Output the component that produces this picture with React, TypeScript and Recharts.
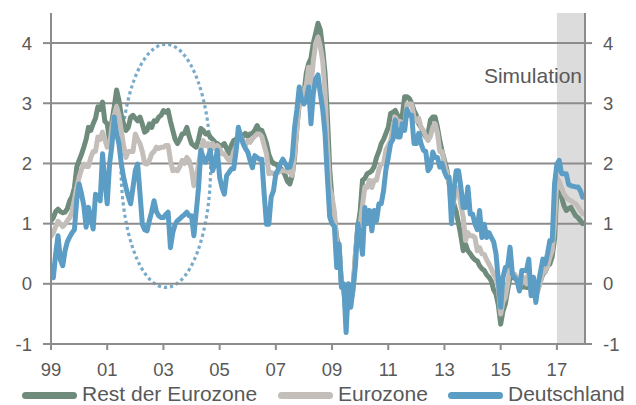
import React from 'react';
import {
  LineChart, Line, XAxis, YAxis, ReferenceArea, ReferenceLine, Legend,
} from 'recharts';

// Monthly inflation rates, Jan 1999 – Dec 2017 (one row per year)
const START_YEAR = 1999;

const restDerEurozone = [
  1.05, 1.1, 1.2, 1.24, 1.2, 1.18, 1.19, 1.25, 1.38, 1.45, 1.6, 1.94,
  2.05, 2.15, 2.27, 2.4, 2.6, 2.55, 2.66, 2.75, 2.94, 2.9, 3.02, 2.7,
  2.66, 2.38, 2.7, 2.94, 3.22, 3.05, 2.8, 2.66, 2.55, 2.6, 2.77, 2.8,
  2.75, 2.71, 2.77, 2.65, 2.52, 2.55, 2.66, 2.6, 2.71, 2.7, 2.77, 2.8,
  2.88, 2.85, 2.88, 2.7, 2.55, 2.4, 2.33, 2.4, 2.49, 2.5, 2.6, 2.45,
  2.33, 2.3, 2.27, 2.4, 2.58, 2.55, 2.49, 2.5, 2.44, 2.4, 2.35, 2.33,
  2.3, 2.3, 2.33, 2.25, 2.16, 2.3, 2.38, 2.4, 2.45, 2.49, 2.45, 2.5,
  2.45, 2.49, 2.5, 2.55, 2.63, 2.55, 2.55, 2.45, 2.33, 2.15, 2.05, 2.0,
  1.99, 1.95, 1.92, 1.88, 1.8, 1.7, 1.66, 1.8, 2.1, 2.6, 3.0, 3.1,
  3.16, 3.5, 3.66, 3.75, 4.0, 4.16, 4.33, 4.22, 3.9, 3.5, 2.8, 1.9,
  1.4, 1.11, 0.77, 0.6, 0.0, -0.1, -0.45, -0.17, -0.2, -0.06, 0.5, 0.94,
  1.2, 1.72, 1.75, 1.83, 1.85, 1.88, 1.95, 2.1, 2.2, 2.33, 2.4, 2.5,
  2.6, 2.83, 2.85, 2.88, 2.8, 2.72, 2.8, 3.11, 3.11, 3.08, 3.0, 2.88,
  2.8, 2.66, 2.6, 2.5, 2.44, 2.5, 2.72, 2.77, 2.77, 2.6, 2.38, 2.2,
  2.05, 1.9, 1.66, 1.5, 1.33, 1.2, 1.0, 0.8, 0.55, 0.66, 0.55, 0.5,
  0.44, 0.4, 0.38, 0.3, 0.25, 0.22, 0.15, 0.11, 0.05, -0.1, -0.17, -0.35,
  -0.67, -0.45, -0.33, -0.1, 0.11, 0.1, 0.11, 0.05, -0.06, -0.06, -0.05, -0.06,
  -0.06, -0.1, -0.06, -0.08, -0.06, 0.05, 0.16, 0.2, 0.3, 0.33, 0.45, 0.75,
  1.55, 1.5, 1.44, 1.3, 1.22, 1.25, 1.27, 1.2, 1.13, 1.1, 1.05, 1.0,
];

const eurozone = [
  0.79, 0.85, 0.95, 1.04, 1.0, 0.95, 0.99, 1.05, 1.1, 1.2, 1.4, 1.6,
  1.77, 1.9, 1.99, 1.95, 1.95, 2.1, 2.2, 2.2, 2.44, 2.4, 2.52, 2.4,
  2.27, 2.3, 2.6, 2.8, 2.95, 2.8, 2.55, 2.3, 2.1, 2.2, 2.2, 2.2,
  2.49, 2.4, 2.33, 2.2, 2.0, 1.99, 2.05, 2.16, 2.2, 2.27, 2.25, 2.27,
  2.27, 2.3, 2.3, 2.05, 1.88, 1.9, 1.88, 1.95, 2.05, 2.0, 2.1, 2.05,
  1.9, 1.63, 1.75, 2.0, 2.22, 2.38, 2.3, 2.33, 2.2, 2.33, 2.25, 2.3,
  2.25, 2.16, 2.16, 2.1, 2.05, 2.05, 2.2, 2.27, 2.45, 2.45, 2.38, 2.3,
  2.38, 2.35, 2.41, 2.45, 2.49, 2.49, 2.45, 2.3, 2.16, 1.83, 1.85, 1.83,
  1.83, 1.85, 1.88, 1.88, 1.88, 1.86, 1.86, 1.8, 2.16, 2.6, 3.05, 3.1,
  3.2, 3.3, 3.6, 3.3, 3.7, 3.99, 4.1, 3.94, 3.7, 3.2, 2.3, 1.6,
  1.44, 1.2, 0.66, 0.66, -0.03, -0.1, -0.56, -0.2, -0.3, -0.12, 0.5, 0.94,
  1.0, 1.3, 1.61, 1.6, 1.72, 1.6, 1.72, 1.72, 1.9, 1.99, 2.0, 2.22,
  2.3, 2.38, 2.6, 2.77, 2.7, 2.7, 2.6, 2.6, 2.99, 2.99, 2.99, 2.77,
  2.7, 2.75, 2.6, 2.55, 2.45, 2.38, 2.45, 2.6, 2.66, 2.5, 2.2, 2.2,
  1.99, 1.85, 1.66, 1.2, 1.38, 1.55, 1.6, 1.3, 1.11, 0.72, 0.85, 0.8,
  0.8, 0.77, 0.55, 0.6, 0.5, 0.49, 0.4, 0.33, 0.25, 0.16, 0.1, -0.06,
  -0.5, -0.3, -0.22, 0.0, 0.3, 0.16, 0.16, 0.1, -0.06, 0.05, 0.1, 0.0,
  0.22, -0.15, 0.0, -0.2, -0.1, 0.03, 0.2, 0.2, 0.3, 0.44, 0.55, 1.0,
  1.77, 1.7, 1.6, 1.5, 1.44, 1.4, 1.38, 1.35, 1.33, 1.28, 1.22, 1.16,
];

const deutschland = [
  0.3, 0.1, 0.5, 0.8, 0.4, 0.3, 0.55, 0.7, 0.78, 0.85, 0.9, 1.4,
  1.66, 1.5, 1.3, 0.94, 1.27, 1.1, 0.91, 1.49, 1.45, 1.38, 2.16, 1.7,
  1.33, 1.99, 2.3, 2.77, 2.5, 2.33, 2.0, 1.77, 1.6, 1.45, 1.33, 1.6,
  1.88, 1.99, 1.5, 0.99, 0.9, 0.88, 1.05, 1.2, 1.38, 1.2, 1.13, 1.1,
  1.1, 1.15, 1.19, 0.6, 0.85, 0.99, 1.05, 1.08, 1.12, 1.15, 1.19, 1.13,
  1.13, 0.8, 1.19, 1.6, 2.22, 2.1, 2.02, 2.1, 2.22, 1.88, 2.0, 2.22,
  1.77, 1.6, 1.49, 1.8, 1.85, 1.91, 1.91, 2.2, 2.6, 2.45, 2.33, 2.25,
  2.19, 2.05, 1.93, 2.13, 2.1, 2.07, 2.07, 1.5, 0.99, 0.99, 1.44, 1.55,
  1.83, 1.9, 2.0, 2.07, 2.0, 1.93, 1.94, 2.1, 2.6, 2.9, 3.27, 3.05,
  2.99, 3.05, 3.27, 2.66, 3.16, 3.4, 3.47, 3.16, 2.9, 2.5, 1.77, 1.11,
  1.0, 0.95, 0.27, 0.66, -0.06, 0.0, -0.81, 0.0, -0.39, -0.06, 0.3, 1.0,
  0.8, 0.49, 1.27, 1.0, 1.22, 0.88, 1.22, 1.05, 1.33, 1.33, 1.55, 1.9,
  2.1, 2.33, 2.4, 2.72, 2.44, 2.44, 2.66, 2.55, 2.9, 2.8, 2.8, 2.33,
  2.33, 2.5, 2.33, 2.22, 2.2, 1.88, 1.94, 2.19, 2.1, 2.1, 1.94, 2.0,
  1.86, 1.77, 1.77, 1.0, 1.55, 1.88, 1.88, 1.61, 1.27, 1.27, 1.61, 1.16,
  1.16, 1.0, 0.9, 1.22, 0.77, 0.99, 0.77, 0.85, 0.77, 0.7, 0.5, 0.05,
  -0.39, 0.11, 0.27, 0.3, 0.61, 0.16, 0.1, 0.05, -0.12, 0.22, 0.22, 0.22,
  0.41, -0.2, 0.11, -0.31, 0.0, 0.2, 0.41, 0.33, 0.5, 0.72, 0.72, 1.66,
  1.99, 2.05, 1.83, 1.83, 1.83, 1.65, 1.63, 1.62, 1.61, 1.61, 1.55, 1.44,
];

const xTicks = [1999, 2001, 2003, 2005, 2007, 2009, 2011, 2013, 2015, 2017];
const yTicks = [-1, 0, 1, 2, 3, 4];
const xDomain = [1999, 2018];
const yDomain = [-1, 4.5];
const simulationRange = [2017, 2018];
const highlightRangeX = [2001.49, 2004.68];
const highlightRangeY = [-0.06, 3.98];

const seriesNames = ['Rest der Eurozone', 'Eurozone', 'Deutschland'];
const seriesKeys = ['rest', 'ez', 'de'];
const seriesColors = ['#6f8b7b', '#c3beb9', '#5b9dc4'];

const data = restDerEurozone.map((v, i) => ({
  t: START_YEAR + i / 12,
  rest: v,
  ez: eurozone[i],
  de: deutschland[i],
}));

const FONT = "'Liberation Sans', Arial, Helvetica, sans-serif";
const TEXT = '#595959';
const AXIS = '#8c8c8c';
const TICK_FONT = 18.5;
const X_LABEL_GAP = 13;

const fmtYear = (v: number) => String(Math.round(v) % 100).padStart(2, '0');

const XTick = (props: any) => {
  const { x, y, payload } = props;
  return (
    <text x={x} y={y + X_LABEL_GAP} dy="0.72em" textAnchor="middle" fontSize={TICK_FONT} fill={TEXT} fontFamily={FONT}>
      {fmtYear(payload.value)}
    </text>
  );
};

const YTickLeft = (props: any) => {
  const { x, y, payload } = props;
  return (
    <text x={x} y={y} dy="0.36em" textAnchor="end" fontSize={TICK_FONT} fill={TEXT} fontFamily={FONT}>
      {payload.value}
    </text>
  );
};

const YTickRight = (props: any) => {
  const { x, y, payload } = props;
  return (
    <text x={x} y={y} dy="0.36em" textAnchor="start" fontSize={TICK_FONT} fill={TEXT} fontFamily={FONT}>
      {payload.value}
    </text>
  );
};

const legendSwatchX = [22, 278, 448];

const LegendContent = () => (
  <div style={{ position: 'relative', width: 636, height: 24, fontFamily: FONT }}>
    {seriesNames.map((name, i) => (
      <React.Fragment key={name}>
        <div
          style={{
            position: 'absolute', left: legendSwatchX[i], top: 10.5, width: 55, height: 7,
            borderRadius: 3.5, background: seriesColors[i],
          }}
        />
        <span
          style={{
            position: 'absolute', left: legendSwatchX[i] + 60, top: 1, lineHeight: '24px',
            fontSize: 21, color: TEXT, whiteSpace: 'nowrap',
          }}
        >
          {name}
        </span>
      </React.Fragment>
    ))}
  </div>
);

export default function App() {
  return (
    <div style={{ position: 'absolute', left: 0, top: 0, width: 636, height: 405, background: '#fff' }}>
      <LineChart
        width={636}
        height={405}
        data={data}
        margin={{ top: 13, right: 0, bottom: 0, left: 0 }}
      >
        <XAxis
          dataKey="t"
          type="number"
          domain={xDomain}
          ticks={xTicks}
          interval={0}
          allowDataOverflow
          tick={<XTick />}
          tickSize={6}
          tickMargin={0}
          height={37}
          axisLine={{ stroke: AXIS, strokeWidth: 2 }}
          tickLine={{ stroke: AXIS, strokeWidth: 2 }}
        />
        <YAxis
          yAxisId="left"
          domain={yDomain}
          ticks={yTicks}
          interval={0}
          allowDataOverflow
          width={51}
          tick={<YTickLeft />}
          tickSize={8}
          tickMargin={11}
          axisLine={{ stroke: AXIS, strokeWidth: 2 }}
          tickLine={{ stroke: AXIS, strokeWidth: 2 }}
        />
        <YAxis
          yAxisId="right"
          orientation="right"
          domain={yDomain}
          ticks={yTicks}
          interval={0}
          allowDataOverflow
          width={51}
          tick={<YTickRight />}
          tickSize={7}
          tickMargin={11}
          axisLine={{ stroke: AXIS, strokeWidth: 2 }}
          tickLine={{ stroke: AXIS, strokeWidth: 2 }}
        />
        <ReferenceArea
          yAxisId="left"
          x1={simulationRange[0]}
          x2={simulationRange[1]}
          y1={yDomain[0]}
          y2={yDomain[1]}
          shape={(p: any) => (
            <g>
              <rect x={p.x} y={p.y} width={p.width} height={p.height} fill="#dcdcdc" />
              <text
                x={p.x + p.width - 3}
                y={p.y + 70}
                textAnchor="end"
                fontSize={21}
                fill={TEXT}
                fontFamily={FONT}
              >
                Simulation
              </text>
            </g>
          )}
        />
        {yTicks.filter((v) => v > yDomain[0]).map((v) => (
          <ReferenceLine key={v} yAxisId="left" y={v} stroke={AXIS} strokeWidth={2} />
        ))}
        {seriesKeys.map((k, i) => (
          <Line
            key={k}
            yAxisId="left"
            dataKey={k}
            name={seriesNames[i]}
            type="linear"
            stroke={seriesColors[i]}
            strokeWidth={5}
            strokeLinejoin="round"
            strokeLinecap="round"
            dot={false}
            activeDot={false}
            isAnimationActive={false}
          />
        ))}
        <ReferenceArea
          yAxisId="left"
          x1={highlightRangeX[0]}
          x2={highlightRangeX[1]}
          y1={highlightRangeY[0]}
          y2={highlightRangeY[1]}
          shape={(p: any) => (
            <ellipse
              cx={p.x + p.width / 2}
              cy={p.y + p.height / 2}
              rx={p.width / 2}
              ry={p.height / 2}
              fill="none"
              stroke="#3f86b4"
              strokeOpacity={0.7}
              strokeWidth={3.2}
              strokeDasharray="3.2 3"
            />
          )}
        />
        <Legend verticalAlign="bottom" align="left" height={24} content={() => <LegendContent />} />
      </LineChart>
    </div>
  );
}
